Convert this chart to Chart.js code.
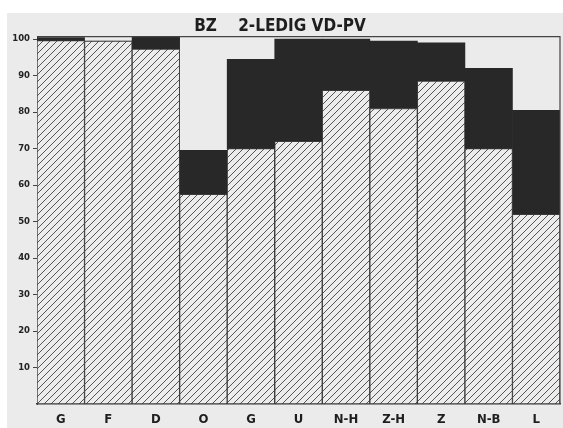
<!DOCTYPE html>
<html>
<head>
<meta charset="utf-8">
<script src="https://cdn.jsdelivr.net/npm/chart.js@4"></script>
<style>
  html, body { margin: 0; padding: 0; background: #ffffff; }
  canvas { display: block; }
</style>
</head>
<body>
<canvas id="c" width="563" height="428"></canvas>
<script>
// ---- data ----
const categories = ['G', 'F', 'D', 'O', 'G', 'U', 'N-H', 'Z-H', 'Z', 'N-B', 'L'];
const hatchedValues = [99.6, 99.5, 97.3, 57.5, 70, 72, 86, 81, 88.5, 70, 52];
const darkValues = [0.8, 0, 3.2, 12, 24.5, 28, 14, 18.5, 10.5, 22, 28.5];
const yTickValues = [10, 20, 30, 40, 50, 60, 70, 80, 90, 100];
const titleText = 'BZ    2-LEDIG VD-PV';

// ---- styling helpers ----
function hatchPattern() {
  const s = 7;
  const c = document.createElement('canvas');
  c.width = s; c.height = s;
  const g = c.getContext('2d');
  g.fillStyle = '#ececec';
  g.fillRect(0, 0, s, s);
  g.strokeStyle = '#555555';
  g.lineWidth = 1;
  g.beginPath();
  g.moveTo(-1, s + 1); g.lineTo(s + 1, -1);
  g.moveTo(-1, 1); g.lineTo(1, -1);
  g.moveTo(s - 1, s + 1); g.lineTo(s + 1, s - 1);
  g.stroke();
  return g.createPattern(c, 'repeat');
}

const panelPlugin = {
  id: 'panel',
  beforeDraw(chart) {
    const ctx = chart.ctx;
    ctx.save();
    ctx.fillStyle = '#ffffff';
    ctx.fillRect(0, 0, chart.width, chart.height);
    ctx.fillStyle = '#ebebeb';
    ctx.fillRect(7, 13, chart.width - 7, chart.height - 13);
    ctx.restore();
  },
  afterDatasetsDraw(chart) {
    const a = chart.chartArea;
    const ctx = chart.ctx;
    ctx.save();
    ctx.strokeStyle = '#444';
    ctx.lineWidth = 1.2;
    ctx.beginPath();
    ctx.moveTo(a.left, a.top + 0.5);
    ctx.lineTo(a.right, a.top + 0.5);
    ctx.lineTo(a.right, a.bottom);
    ctx.stroke();
    ctx.restore();
  }
};

const hatch = hatchPattern();

new Chart(document.getElementById('c'), {
  type: 'bar',
  data: {
    labels: categories,
    datasets: [
      {
        label: 'hatched',
        data: hatchedValues,
        backgroundColor: hatch,
        borderColor: '#3a3a3a',
        borderWidth: 1,
        borderSkipped: false,
        categoryPercentage: 1,
        barPercentage: 1
      },
      {
        label: 'dark',
        data: darkValues,
        backgroundColor: '#282828',
        borderColor: '#282828',
        borderWidth: 0,
        categoryPercentage: 1,
        barPercentage: 1
      }
    ]
  },
  plugins: [panelPlugin],
  options: {
    responsive: false,
    animation: false,
    devicePixelRatio: 1,
    layout: { padding: { left: 0, right: 3, top: 17, bottom: 0 } },
    plugins: {
      legend: { display: false },
      tooltip: { enabled: false },
      title: {
        display: true,
        text: titleText,
        color: '#1e1e1e',
        font: { family: "'Liberation Sans Narrow', 'DejaVu Sans Condensed', sans-serif", size: 17, weight: 'bold', lineHeight: 1.12 },
        padding: { top: 0, bottom: 0 }
      }
    },
    scales: {
      x: {
        stacked: true,
        afterFit(scale) { scale.height = 24; },
        grid: { display: false, drawTicks: false },
        border: { display: true, color: '#333', width: 1.5 },
        ticks: {
          autoSkip: false,
          maxRotation: 0,
          padding: 8,
          color: '#1e1e1e',
          font: { family: "'Liberation Sans Narrow', 'DejaVu Sans Condensed', sans-serif", size: 13, weight: 'bold' }
        }
      },
      y: {
        stacked: true,
        min: 0,
        max: 100.85,
        afterBuildTicks(scale) {
          scale.ticks = yTickValues.map(v => ({ value: v }));
        },
        afterFit(scale) { scale.width = 37; },
        grid: { drawOnChartArea: false, drawTicks: true, tickLength: 4, tickColor: '#444', tickWidth: 1 },
        border: { display: true, color: '#3a3a3a', width: 1 },
        ticks: {
          padding: 3,
          color: '#222',
          font: { family: "'DejaVu Sans', sans-serif", size: 8.5, weight: 'bold' }
        }
      }
    }
  }
});
</script>
</body>
</html>
